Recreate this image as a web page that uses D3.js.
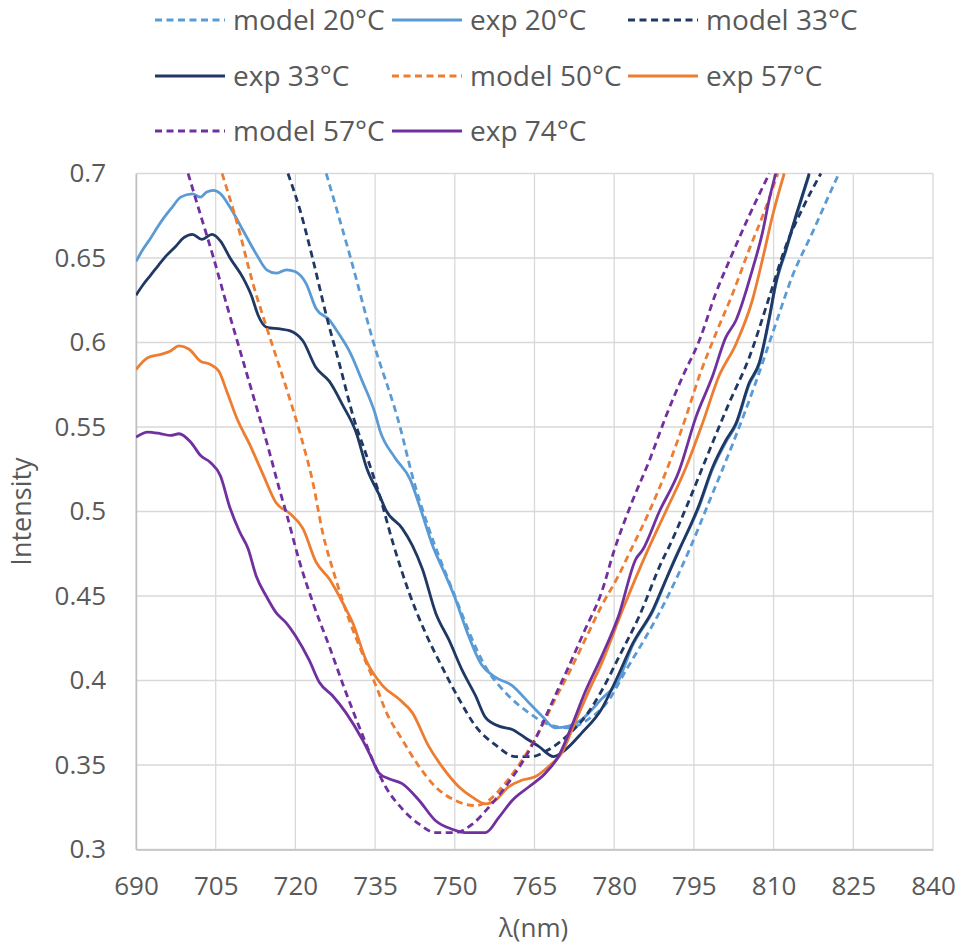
<!DOCTYPE html>
<html>
<head>
<meta charset="utf-8">
<script src="https://cdn.jsdelivr.net/npm/d3@7"></script>
<style>
  html, body { margin: 0; padding: 0; background: #fff; }
  svg { display: block; }
  text { font-family: "Open Sans", "Noto Sans", sans-serif; fill: #595959; }
</style>
</head>
<body>
<svg id="chart" width="962" height="947"></svg>
<script>
// ---------- data ----------
const xTicks = [690, 705, 720, 735, 750, 765, 780, 795, 810, 825, 840];
const yTicks = [0.3, 0.35, 0.4, 0.45, 0.5, 0.55, 0.6, 0.65, 0.7];
const yTickLabels = ["0.3", "0.35", "0.4", "0.45", "0.5", "0.55", "0.6", "0.65", "0.7"];

const seriesNames = ["model 20°C", "exp 20°C", "model 33°C", "exp 33°C", "model 50°C", "exp 57°C", "model 57°C", "exp 74°C"];
const seriesColors = ["#5B9BD5", "#5B9BD5", "#1F3864", "#1F3864", "#ED7D31", "#ED7D31", "#7030A0", "#7030A0"];
const seriesDashed = [true, false, true, false, true, false, true, false];

// [wavelength nm, intensity]
const model20 = [[725.8,0.700],[730.3,0.651],[734.6,0.601],[739.7,0.550],[742.1,0.520],[745.1,0.490],[749.5,0.454],[755.8,0.408],[760.1,0.391],[763.9,0.381],[767.6,0.374],[771.4,0.372],[775.1,0.377],[778.9,0.388],[782.2,0.406],[786.0,0.426],[789.8,0.448],[794.1,0.477],[797.9,0.506],[802.3,0.540],[806.6,0.576],[810.4,0.611],[813.5,0.639],[817.3,0.665],[822.0,0.698],[822.3,0.700]];

const exp20 = [[690,0.648],[691.5,0.656],[692.8,0.662],[694.0,0.668],[695.3,0.674],[696.8,0.680],[698.4,0.686],[700.6,0.688],[702.1,0.686],[703.3,0.689],[704.6,0.690],[705.9,0.688],[707.7,0.680],[710.2,0.666],[712.7,0.652],[714.6,0.643],[716.4,0.641],[718.3,0.643],[719.9,0.642],[722.0,0.635],[723.9,0.620],[726.5,0.613],[728.0,0.606],[730.3,0.594],[732.6,0.577],[735.0,0.558],[735.9,0.548],[738.7,0.532],[741.6,0.519],[743.5,0.502],[745.8,0.480],[748.3,0.462],[749.9,0.450],[752.4,0.428],[754.9,0.410],[757.6,0.402],[760.8,0.397],[763.9,0.387],[766.4,0.379],[768.9,0.372],[771.4,0.373],[773.9,0.377],[777.6,0.389],[780.8,0.400],[783.5,0.421],[787.3,0.441],[791.1,0.470],[796.0,0.503],[798.5,0.525],[801.0,0.541],[802.9,0.551],[805.4,0.575],[807.3,0.587],[809.2,0.614],[810.4,0.634],[812.3,0.654],[814.2,0.674],[816.7,0.699]];

const model33 = [[718.6,0.700],[720.9,0.678],[723.3,0.649],[725.9,0.615],[728.4,0.586],[730.9,0.556],[733.5,0.532],[735.9,0.509],[738.3,0.482],[741.4,0.452],[744.5,0.428],[747.6,0.408],[750.8,0.389],[753.9,0.373],[757.6,0.362],[761.4,0.355],[764.5,0.355],[767.6,0.359],[771.4,0.368],[775.1,0.381],[778.0,0.396],[780.9,0.414],[784.7,0.438],[789.2,0.472],[790.0,0.477],[793.5,0.502],[797.9,0.536],[801.6,0.564],[805.4,0.591],[809.2,0.627],[812.3,0.657],[815.4,0.679],[818.9,0.700]];

const exp33 = [[690,0.628],[691.3,0.634],[692.8,0.640],[694.3,0.646],[695.9,0.652],[697.5,0.657],[699.0,0.662],[700.6,0.664],[702.4,0.661],[704.3,0.664],[705.9,0.660],[707.7,0.650],[710.2,0.638],[711.7,0.628],[713.0,0.616],[714.6,0.609],[717.1,0.608],[718.9,0.607],[721.4,0.601],[723.9,0.585],[726.4,0.577],[728.9,0.563],[731.4,0.547],[733.5,0.525],[735.9,0.509],[737.0,0.501],[740.1,0.490],[742.0,0.480],[743.9,0.466],[746.4,0.440],[748.9,0.424],[751.4,0.406],[753.9,0.391],[755.8,0.378],[758.3,0.373],[760.8,0.371],[763.3,0.366],[765.8,0.361],[768.6,0.355],[770.8,0.359],[773.9,0.369],[777.6,0.383],[780.3,0.400],[783.5,0.422],[787.3,0.442],[789.5,0.458],[792.2,0.477],[796.0,0.504],[798.5,0.526],[801.0,0.542],[802.9,0.552],[805.4,0.576],[807.3,0.588],[809.2,0.615],[810.4,0.635],[812.3,0.655],[814.2,0.675],[816.7,0.700]];

const model50 = [[706.2,0.700],[709.0,0.671],[712.0,0.635],[715.2,0.603],[718.4,0.572],[720.9,0.546],[723.3,0.517],[725.1,0.488],[727.6,0.460],[730.1,0.436],[732.6,0.416],[735.4,0.395],[737.0,0.382],[740.1,0.365],[743.3,0.349],[746.4,0.337],[750.1,0.329],[753.9,0.326],[756.4,0.329],[758.9,0.337],[761.4,0.347],[763.9,0.359],[766.4,0.373],[768.9,0.389],[771.4,0.404],[774.5,0.424],[777.6,0.444],[780.8,0.462],[783.1,0.477],[786.6,0.500],[790.3,0.528],[793.5,0.556],[796.0,0.580],[799.1,0.605],[802.3,0.629],[805.4,0.655],[808.2,0.677],[810.8,0.700]];

const exp57 = [[690,0.584],[692.2,0.591],[694.7,0.593],[696.5,0.595],[698.1,0.598],[700.0,0.596],[702.1,0.589],[704.0,0.587],[705.6,0.583],[707.1,0.571],[709.0,0.555],[711.5,0.539],[713.9,0.522],[716.4,0.505],[718.9,0.499],[721.4,0.490],[723.9,0.470],[726.4,0.460],[728.9,0.446],[730.8,0.434],[733.3,0.412],[736.4,0.397],[739.5,0.389],[742.0,0.381],[745.1,0.361],[747.6,0.349],[750.8,0.337],[753.3,0.331],[755.8,0.327],[757.6,0.329],[760.1,0.337],[762.6,0.341],[765.1,0.343],[767.6,0.349],[770.1,0.357],[772.6,0.375],[775.1,0.393],[777.6,0.410],[781.6,0.442],[786.3,0.477],[789.7,0.500],[793.5,0.526],[796.6,0.552],[799.7,0.580],[802.9,0.599],[806.0,0.625],[807.9,0.649],[809.8,0.675],[812.0,0.700]];

const model57 = [[699.8,0.700],[702.1,0.676],[704.6,0.650],[707.1,0.622],[709.6,0.595],[712.1,0.568],[714.6,0.541],[717.1,0.512],[718.3,0.499],[720.8,0.470],[723.3,0.446],[726.4,0.420],[729.5,0.393],[732.6,0.368],[735.1,0.349],[737.0,0.337],[740.1,0.324],[743.3,0.315],[746.4,0.310],[750.1,0.310],[753.3,0.315],[756.4,0.325],[759.5,0.337],[762.6,0.351],[765.1,0.365],[768.3,0.387],[771.4,0.408],[774.5,0.430],[777.6,0.452],[780.0,0.477],[783.4,0.506],[786.6,0.530],[789.7,0.556],[792.9,0.580],[796.0,0.601],[799.1,0.629],[802.3,0.653],[805.4,0.675],[809.2,0.700]];

const exp74 = [[690,0.544],[692.2,0.547],[694.7,0.546],[696.5,0.545],[698.1,0.546],[700.3,0.541],[702.2,0.533],[704.0,0.529],[705.9,0.521],[707.6,0.503],[709.5,0.488],[711.1,0.478],[712.6,0.462],[714.5,0.450],[716.4,0.440],[718.3,0.434],[720.1,0.426],[722.6,0.412],[724.5,0.399],[727.0,0.391],[729.5,0.381],[732.6,0.365],[733.9,0.357],[735.8,0.345],[737.5,0.342],[740.1,0.339],[743.3,0.329],[746.4,0.317],[749.5,0.312],[752.0,0.310],[755.8,0.310],[758.3,0.319],[760.8,0.329],[763.9,0.337],[767.0,0.345],[769.5,0.355],[772.0,0.373],[774.5,0.393],[777.6,0.414],[780.8,0.438],[784.1,0.472],[785.3,0.477],[788.5,0.500],[792.2,0.524],[795.4,0.556],[798.5,0.580],[801.0,0.603],[802.9,0.613],[806.0,0.643],[807.9,0.665],[809.2,0.685],[810.4,0.700]];

const seriesData = [model20, exp20, model33, exp33, model50, exp57, model57, exp74];

// ---------- layout ----------
const svg = d3.select("#chart");
const plot = { left: 136, right: 933, top: 173.5, bottom: 849.5 };

const x = d3.scaleLinear().domain([690, 840]).range([plot.left, plot.right]);
const y = d3.scaleLinear().domain([0.3, 0.7]).range([plot.bottom, plot.top]);

// grid
const grid = svg.append("g");
grid.selectAll("line.v").data(xTicks).join("line")
  .attr("x1", d => x(d)).attr("x2", d => x(d))
  .attr("y1", plot.top).attr("y2", plot.bottom)
  .attr("stroke", "#d9d9d9").attr("stroke-width", 1.3);
grid.selectAll("line.h").data(yTicks).join("line")
  .attr("x1", plot.left).attr("x2", plot.right)
  .attr("y1", d => y(d)).attr("y2", d => y(d))
  .attr("stroke", "#d9d9d9").attr("stroke-width", 1.3);

// axes
const xAxis = d3.axisBottom(x).tickValues(xTicks).tickSize(0).tickPadding(27).tickFormat(d3.format("d"));
const yAxis = d3.axisLeft(y).tickValues(yTicks).tickSize(0).tickPadding(30).tickFormat((d, i) => yTickLabels[i]);

const gx = svg.append("g").attr("transform", `translate(0,${plot.bottom})`).call(xAxis);
gx.select(".domain").attr("stroke", "#bfbfbf").attr("stroke-width", 1.5);
gx.selectAll("text").attr("font-size", 26).attr("fill", "#595959").attr("font-family", "Open Sans").attr("dy", "0.71em");

const gy = svg.append("g").attr("transform", `translate(${plot.left},0)`).call(yAxis);
gy.select(".domain").attr("stroke", "#bfbfbf").attr("stroke-width", 1.5);
gy.selectAll("text").attr("font-size", 26).attr("fill", "#595959").attr("font-family", "Open Sans");

// clip
svg.append("clipPath").attr("id", "clip").append("rect")
  .attr("x", plot.left).attr("y", plot.top - 1)
  .attr("width", plot.right - plot.left).attr("height", plot.bottom - plot.top + 1);

const line = d3.line().x(d => x(d[0])).y(d => y(d[1])).curve(d3.curveMonotoneX);

const lines = svg.append("g").attr("clip-path", "url(#clip)");
seriesData.forEach((data, i) => {
  lines.append("path")
    .datum(data)
    .attr("d", line)
    .attr("fill", "none")
    .attr("stroke", seriesColors[i])
    .attr("stroke-width", 2.8)
    .attr("stroke-linejoin", "round")
    .attr("stroke-dasharray", seriesDashed[i] ? "7,4.5" : null);
});

// axis titles
svg.append("text").attr("x", (plot.left + plot.right) / 2 - 1).attr("y", 937)
  .attr("text-anchor", "middle").attr("font-size", 26).text("λ(nm)");
svg.append("text").attr("transform", `translate(31,${(plot.top + plot.bottom) / 2}) rotate(-90)`)
  .attr("text-anchor", "middle").attr("font-size", 27).text("Intensity");

// legend
const legCols = [155, 392, 628];
const legRows = [20, 76, 131];
const legend = svg.append("g");
seriesNames.forEach((name, i) => {
  const cx = legCols[i % 3], cy = legRows[Math.floor(i / 3)];
  legend.append("line")
    .attr("x1", cx).attr("x2", cx + 70).attr("y1", cy).attr("y2", cy)
    .attr("stroke", seriesColors[i]).attr("stroke-width", 2.8)
    .attr("stroke-dasharray", seriesDashed[i] ? "7,4.5" : null);
  legend.append("text").attr("x", cx + 78).attr("y", cy).attr("dy", "0.35em")
    .attr("font-size", 28).text(name);
});
</script>
</body>
</html>
